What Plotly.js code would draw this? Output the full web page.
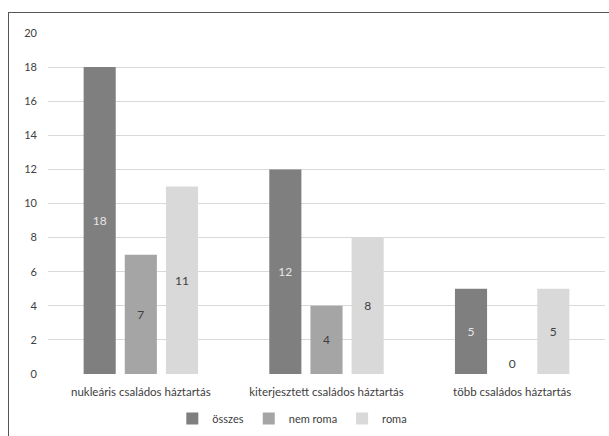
<!DOCTYPE html>
<html><head><meta charset="utf-8">
<script src="https://cdn.plot.ly/plotly-3.0.1.min.js"></script>
<style>
body{margin:0;padding:0;background:#fff;}
#wrap{position:relative;width:609px;height:436px;overflow:hidden;}
#chart{position:absolute;left:0;top:0;width:609px;height:436px;}
#frame{position:absolute;left:8px;top:12px;width:700px;height:500px;border-left:1px solid #555;border-top:1px solid #555;pointer-events:none;}
</style></head>
<body>
<div id="wrap"><div id="chart"></div><div id="frame"></div></div>
<script>
var categories = ["nukleáris családos háztartás", "kiterjesztett családos háztartás", "több családos háztartás"];
var seriesNames = ["összes", "nem roma", "roma"];
var osszes = [18, 12, 5];
var nemRoma = [7, 4, 0];
var roma = [11, 8, 5];

var colors = ["#7f7f7f", "#a5a5a5", "#d9d9d9"];
var textColors = ["#e6e6e6", "#404040", "#404040"];
var font = "Lato, 'Open Sans', sans-serif";

function mk(name, vals, i){
  return {
    type: "bar", name: name, x: categories, y: vals,
    marker: {color: colors[i]},
    text: vals.map(String),
    textposition: vals.map(function(v){return v === 0 ? "outside" : "inside";}),
    insidetextanchor: "middle",
    textangle: 0,
    constraintext: "none",
    cliponaxis: false,
    insidetextfont: {family: font, size: 12, color: textColors[i]},
    outsidetextfont: {family: font, size: 12, color: "#404040"},
    hoverinfo: "none"
  };
}
var data = [mk(seriesNames[0], osszes, 0), mk(seriesNames[1], nemRoma, 1), mk(seriesNames[2], roma, 2)];

var layout = {
  width: 609, height: 436,
  margin: {l: 48, r: 4, t: 33, b: 62, autoexpand: false},
  paper_bgcolor: "#fff", plot_bgcolor: "#fff",
  barmode: "group", bargap: 0.335, bargroupgap: 0.22,
  font: {family: font, size: 11, color: "#404040"},
  xaxis: {tickfont: {family: font, size: 11.5, color: "#404040"}, showgrid: false, showline: false, ticks: "", ticklabelstandoff: 9, fixedrange: true, automargin: false},
  yaxis: {range: [0, 20], dtick: 2, showgrid: true, gridcolor: "#d9d9d9", gridwidth: 1, zeroline: false, showline: false, ticks: "", tickfont: {family: font, size: 11, color: "#404040"}, ticklabelstandoff: 10, automargin: false},
  showlegend: true,
  legend: {orientation: "h", xref: "container", x: 0.48, xanchor: "center", yref: "container", y: 0.04, yanchor: "middle", bgcolor: "rgba(0,0,0,0)", font: {family: font, size: 11, color: "#404040"}, itemwidth: 30, traceorder: "normal", tracegroupgap: 0}
};
Plotly.newPlot("chart", data, layout, {displayModeBar: false, staticPlot: true});
</script>
</body></html>
